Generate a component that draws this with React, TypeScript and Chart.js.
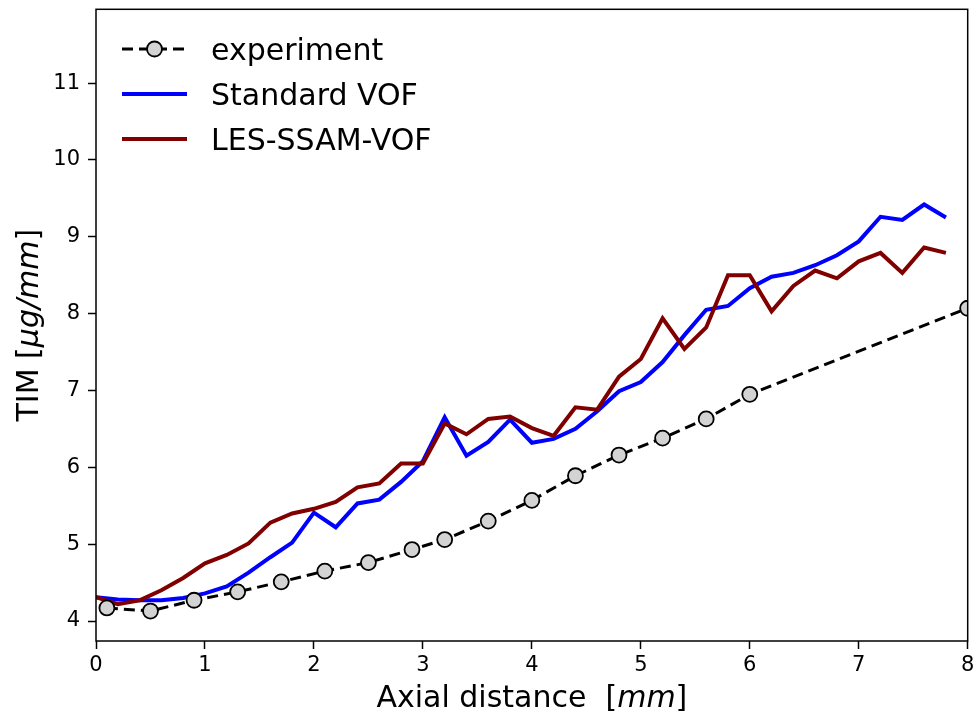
import React, { useEffect, useRef } from "react";
import { Chart, registerables } from "chart.js";

Chart.register(...registerables);

// ---- data ----
const expX = [0.1, 0.5, 0.9, 1.3, 1.7, 2.1, 2.5, 2.9, 3.2, 3.6, 4.0, 4.4, 4.8, 5.2, 5.6, 6.0, 8.0];
const expY = [4.17, 4.13, 4.27, 4.38, 4.51, 4.65, 4.76, 4.93, 5.06, 5.3, 5.57, 5.89, 6.16, 6.38, 6.63, 6.95, 8.07];

const simX = [
  0.0, 0.2, 0.4, 0.6, 0.8, 1.0, 1.2, 1.4, 1.6, 1.8,
  2.0, 2.2, 2.4, 2.6, 2.8, 3.0, 3.2, 3.4, 3.6, 3.8,
  4.0, 4.2, 4.4, 4.6, 4.8, 5.0, 5.2, 5.4, 5.6, 5.8,
  6.0, 6.2, 6.4, 6.6, 6.8, 7.0, 7.2, 7.4, 7.6, 7.8,
];
const standardVOF = [
  4.31, 4.28, 4.27, 4.27, 4.3, 4.36, 4.45, 4.63, 4.83, 5.02,
  5.41, 5.22, 5.53, 5.58, 5.81, 6.08, 6.65, 6.15, 6.33, 6.62,
  6.32, 6.37, 6.5, 6.73, 6.99, 7.11, 7.37, 7.72, 8.05, 8.1,
  8.33, 8.48, 8.53, 8.63, 8.76, 8.94, 9.26, 9.22, 9.42, 9.25,
];
const lesSsamVOF = [
  4.31, 4.22, 4.27, 4.4, 4.56, 4.75, 4.86, 5.01, 5.28, 5.4,
  5.46, 5.55, 5.74, 5.79, 6.05, 6.05, 6.57, 6.43, 6.63, 6.66,
  6.51, 6.41, 6.78, 6.75, 7.18, 7.41, 7.94, 7.54, 7.82, 8.5,
  8.5, 8.03, 8.36, 8.56, 8.46, 8.68, 8.79, 8.53, 8.86, 8.79,
];

const xTicks = [0, 1, 2, 3, 4, 5, 6, 7, 8];
const yTicks = [4, 5, 6, 7, 8, 9, 10, 11];

const seriesLabels = ["experiment", "Standard VOF", "LES-SSAM-VOF"];

const FONT = "'DejaVu Sans', 'Liberation Sans', sans-serif";

function drawMixed(ctx: CanvasRenderingContext2D, parts: [string, boolean][], cx: number, cy: number, size: number) {
  const fonts = parts.map(([, it]) => `${it ? "italic " : ""}${size}px ${FONT}`);
  let total = 0;
  const widths = parts.map(([t], i) => {
    ctx.font = fonts[i];
    const w = ctx.measureText(t).width;
    total += w;
    return w;
  });
  let x = cx - total / 2;
  ctx.textAlign = "left";
  ctx.textBaseline = "alphabetic";
  parts.forEach(([t], i) => {
    ctx.font = fonts[i];
    ctx.fillText(t, x, cy);
    x += widths[i];
  });
}

const decorPlugin = {
  id: "decor",
  afterDraw(chart: any) {
    const { ctx, chartArea: a } = chart;
    ctx.save();
    // frame
    ctx.strokeStyle = "#000";
    ctx.lineWidth = 1.5;
    ctx.setLineDash([]);
    ctx.strokeRect(a.left, a.top, a.right - a.left, a.bottom - a.top);

    ctx.fillStyle = "#000";
    // x title
    drawMixed(ctx, [["Axial distance  [", false], ["mm", true], ["]", false]], (a.left + a.right) / 2, 707, 30);
    // y title
    ctx.save();
    ctx.translate(38, (a.top + a.bottom) / 2);
    ctx.rotate(-Math.PI / 2);
    drawMixed(ctx, [["TIM [", false], ["\u03bcg/mm", true], ["]", false]], 0, 0, 30);
    ctx.restore();

    // legend
    const ds = chart.data.datasets;
    const rows = [49, 94, 139];
    const x0 = 122, x1 = 187;
    ds.forEach((d: any, i: number) => {
      const y = rows[i];
      ctx.save();
      ctx.strokeStyle = d.borderColor;
      ctx.lineWidth = d.borderWidth;
      ctx.setLineDash(d.borderDash || []);
      ctx.beginPath();
      ctx.moveTo(x0, y);
      ctx.lineTo(x1, y);
      ctx.stroke();
      if (d.pointRadius > 0) {
        ctx.setLineDash([]);
        ctx.beginPath();
        ctx.arc((x0 + x1) / 2, y, d.pointRadius, 0, Math.PI * 2);
        ctx.fillStyle = d.pointBackgroundColor;
        ctx.fill();
        ctx.lineWidth = d.pointBorderWidth;
        ctx.strokeStyle = d.pointBorderColor;
        ctx.stroke();
      }
      ctx.restore();
      ctx.fillStyle = "#000";
      ctx.font = `30px ${FONT}`;
      ctx.textAlign = "left";
      ctx.textBaseline = "alphabetic";
      ctx.fillText(d.label, 211, y + 11);
    });
    ctx.restore();
  },
};

export default function App() {
  const ref = useRef<HTMLCanvasElement | null>(null);
  useEffect(() => {
    if (!ref.current) return;
    const chart = new Chart(ref.current, {
      type: "line",
      data: {
        datasets: [
          {
            label: seriesLabels[0],
            data: expX.map((x, i) => ({ x, y: expY[i] })),
            borderColor: "#000000",
            borderWidth: 3,
            borderDash: [11, 6],
            pointRadius: 7.5,
            pointBackgroundColor: "#d3d3d3",
            pointBorderColor: "#000000",
            pointBorderWidth: 1.8,
            tension: 0,
            order: 0,
          },
          {
            label: seriesLabels[1],
            data: simX.map((x, i) => ({ x, y: standardVOF[i] })),
            borderColor: "#0000ff",
            borderWidth: 4,
            pointRadius: 0,
            tension: 0,
            order: 2,
          },
          {
            label: seriesLabels[2],
            data: simX.map((x, i) => ({ x, y: lesSsamVOF[i] })),
            borderColor: "#800000",
            borderWidth: 4,
            pointRadius: 0,
            tension: 0,
            order: 1,
          },
        ] as any,
      },
      options: {
        animation: false,
        responsive: false,
        devicePixelRatio: 1,
        layout: { padding: { top: 7, right: 8, left: 0, bottom: 0 } },
        plugins: { legend: { display: false }, tooltip: { enabled: false } },
        scales: {
          x: {
            type: "linear",
            min: 0,
            max: 8,
            afterFit: (s: any) => { s.height = 76; s.paddingLeft = 0; s.paddingRight = 0; },
            afterBuildTicks: (s: any) => { s.ticks = xTicks.map((v) => ({ value: v })); },
            grid: { drawOnChartArea: false, tickLength: 8, tickColor: "#000", tickWidth: 1.5 },
            border: { display: false },
            ticks: { font: { family: FONT, size: 21 }, color: "#000", padding: 4, maxRotation: 0, autoSkip: false },
          },
          y: {
            type: "linear",
            min: 3.74,
            max: 11.96,
            afterFit: (s: any) => { s.width = 96; s.paddingTop = 0; s.paddingBottom = 0; },
            afterBuildTicks: (s: any) => { s.ticks = yTicks.map((v) => ({ value: v })); },
            grid: { drawOnChartArea: false, tickLength: 8, tickColor: "#000", tickWidth: 1.5 },
            border: { display: false },
            ticks: { font: { family: FONT, size: 21 }, color: "#000", padding: 8, autoSkip: false },
          },
        },
      } as any,
      plugins: [decorPlugin],
    });
    return () => chart.destroy();
  }, []);
  return (
    <div style={{ position: "absolute", left: 0, top: 0, width: 977, height: 717, background: "#fff" }}>
      <canvas ref={ref} width={977} height={717} style={{ width: 977, height: 717 }} />
    </div>
  );
}
